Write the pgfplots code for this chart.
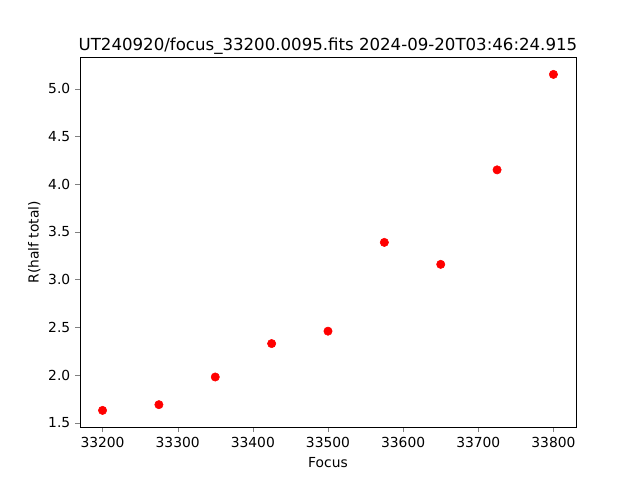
\documentclass[border=0pt]{standalone}
\usepackage{pgfplots}
\pgfplotsset{compat=1.18}
\usepackage{fontspec}
\setmainfont{DejaVu Sans}
\begin{document}
\begin{tikzpicture}[x=1bp,y=1bp]
\useasboundingbox (-57.6bp,-38.02bp) rectangle (403.2bp,307.58bp);
\begin{axis}[
  at={(0,0)}, anchor=south west,
  scale only axis,
  width=357.12bp, height=266.1bp,
  xmin=33170, xmax=33830,
  ymin=1.454, ymax=5.326,
  xtick={33200,33300,33400,33500,33600,33700,33800},
  ytick={1.5,2.0,2.5,3.0,3.5,4.0,4.5,5.0},
  scaled x ticks=false,
  xticklabel style={/pgf/number format/1000 sep={}},
  yticklabel style={/pgf/number format/fixed,/pgf/number format/precision=1,/pgf/number format/fixed zerofill},
  /pgf/number format/assume math mode=true,
  tick label style={font=\fontsize{10}{12}\selectfont},
  label style={font=\fontsize{10}{12}\selectfont},
  xlabel style={yshift=-0.7bp},
  ylabel style={yshift=-1.2bp},
  title style={font=\fontsize{12}{14}\selectfont, yshift=-7.5bp},
  tick align=outside,
  major tick length=3.5bp,
  xtick pos=bottom, ytick pos=left,
  axis line style={line width=0.6bp},
  xlabel={Focus},
  ylabel={R(half total)},
  title={UT240920/focus\_33200.0095.fits 2024-09-20T03:46:24.915},
]
\addplot[only marks, mark=*, mark size=3bp, color=red, mark options={fill=red, draw=red}] coordinates {
(33200,1.63) (33275,1.69) (33350,1.98) (33425,2.33) (33500,2.46)
(33575,3.39) (33650,3.16) (33725,4.15) (33800,5.15)
};
\end{axis}
\end{tikzpicture}
\end{document}
